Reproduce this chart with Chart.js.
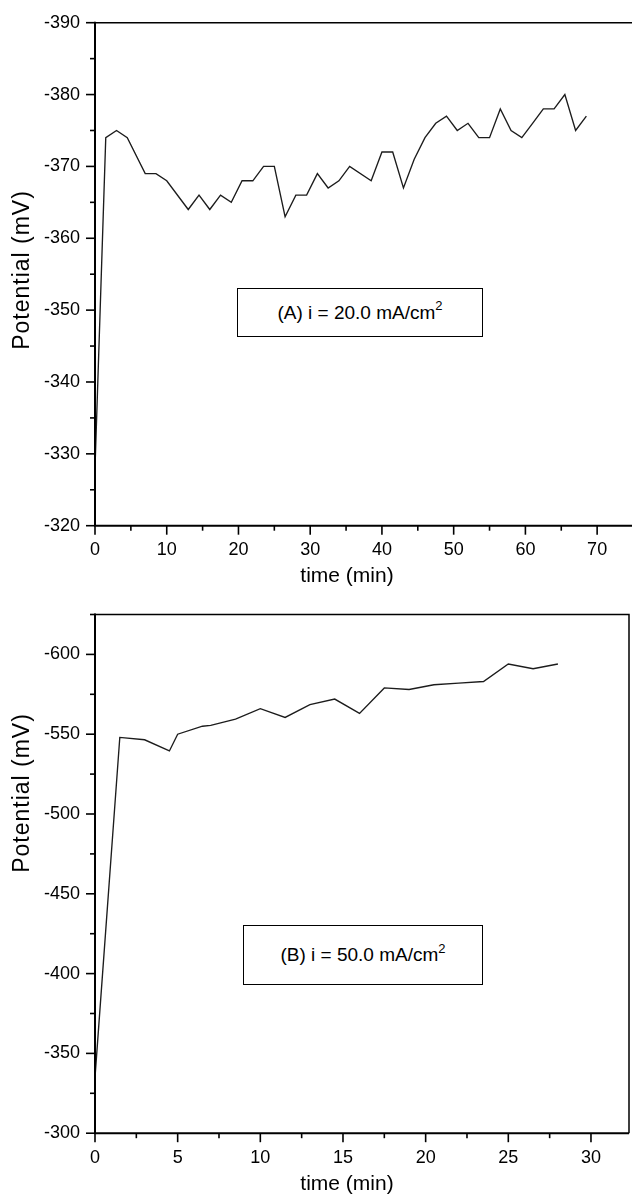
<!DOCTYPE html>
<html><head><meta charset="utf-8">
<script src="https://cdn.jsdelivr.net/npm/chart.js@4.4.1/dist/chart.umd.min.js"></script>
<style>
html,body{margin:0;padding:0;background:#fff;overflow:hidden;}
body{width:632px;height:1196px;position:relative;font-family:"Liberation Sans",Arial,sans-serif;color:#000;}
.cv{position:absolute;left:0;}
.xt{position:absolute;font-size:21px;line-height:21px;white-space:nowrap;transform:translateX(-50%);}
.yt{position:absolute;font-size:23px;letter-spacing:1px;line-height:26px;white-space:nowrap;transform:translate(-50%,-50%) rotate(-90deg);}
.box{position:absolute;border:1px solid #000;box-sizing:border-box;font-size:19px;display:flex;align-items:center;justify-content:center;white-space:nowrap;background:#fff;}
.box sup{font-size:13px;vertical-align:0;position:relative;top:-7px;}
</style></head>
<body>
<canvas id="chartA" class="cv" width="640" height="596" style="top:0"></canvas>
<canvas id="chartB" class="cv" width="640" height="600" style="top:596px"></canvas>
<div class="yt" style="left:21px;top:270px">Potential (mV)</div>
<div class="xt" style="left:347px;top:564px">time (min)</div>
<div class="box" style="left:237px;top:288px;width:246px;height:49px">(A) i = 20.0 mA/cm<sup>2</sup></div>
<div class="yt" style="left:21px;top:793px">Potential (mV)</div>
<div class="xt" style="left:347px;top:1172px">time (min)</div>
<div class="box" style="left:243px;top:925px;width:240px;height:60px">(B) i = 50.0 mA/cm<sup>2</sup></div>
<script>
// ---- Panel A data (i = 20.0 mA/cm2) ----
const timeA = [0, 1.5, 3, 4.5, 7, 8.5, 10, 13, 14.5, 16, 17.5, 19, 20.5, 22, 23.5, 25, 26.5, 28, 29.5, 31, 32.5, 34, 35.5, 38.5, 40, 41.5, 43, 44.5, 46, 47.5, 49, 50.5, 52, 53.5, 55, 56.5, 58, 59.5, 61, 62.5, 64, 65.5, 67, 68.5];
const potA  = [-328, -374, -375, -374, -369, -369, -368, -364, -366, -364, -366, -365, -368, -368, -370, -370, -363, -366, -366, -369, -367, -368, -370, -368, -372, -372, -367, -371, -374, -376, -377, -375, -376, -374, -374, -378, -375, -374, -376, -378, -378, -380, -375, -377];
const xMajorA = [0, 10, 20, 30, 40, 50, 60, 70];
const xMinorA = [5, 15, 25, 35, 45, 55, 65];
const yMajorA = [-390, -380, -370, -360, -350, -340, -330, -320];
const yMinorA = [-385, -375, -365, -355, -345, -335, -325];

// ---- Panel B data (i = 50.0 mA/cm2) ----
const timeB = [0, 1.5, 3, 4.5, 5, 6.5, 7, 8.5, 10, 11.5, 13, 14.5, 16, 17.5, 19, 20.5, 22, 23.5, 25, 26.5, 28];
const potB  = [-335, -548, -546.5, -539.5, -550, -555, -555.5, -559.5, -566, -560.5, -568.5, -572, -563, -579, -578, -581, -582, -583, -594, -591, -594];
const xMajorB = [0, 5, 10, 15, 20, 25, 30];
const xMinorB = [2.5, 7.5, 12.5, 17.5, 22.5, 27.5];
const yMajorB = [-600, -550, -500, -450, -400, -350, -300];
const yMinorB = [-625, -575, -525, -475, -425, -375, -325];

const FONT = "'Liberation Sans', Arial, sans-serif";

const axisFrame = {
  id: 'axisFrame',
  afterDraw(chart, args, o) {
    const {ctx, chartArea: {left, top, right, bottom}, scales: {x, y}} = chart;
    ctx.save();
    ctx.strokeStyle = '#000';
    ctx.lineCap = 'butt';
    ctx.lineWidth = 1.5;
    ctx.beginPath(); ctx.moveTo(left, top); ctx.lineTo(right, top); ctx.lineTo(right, bottom); ctx.stroke();
    ctx.lineWidth = 2;
    ctx.beginPath(); ctx.moveTo(left, top - 1); ctx.lineTo(left, bottom); ctx.lineTo(right, bottom); ctx.stroke();
    ctx.lineWidth = 1.6;
    const seg = (x1, y1, x2, y2) => { ctx.beginPath(); ctx.moveTo(x1, y1); ctx.lineTo(x2, y2); ctx.stroke(); };
    o.xMajor.forEach(v => { const p = x.getPixelForValue(v); seg(p, bottom, p, bottom + 9); });
    o.xMinor.forEach(v => { const p = x.getPixelForValue(v); seg(p, bottom, p, bottom + 5); });
    o.yMajor.forEach(v => { const p = y.getPixelForValue(v); seg(left, p, left - 9, p); });
    o.yMinor.forEach(v => { const p = y.getPixelForValue(v); seg(left, p, left - 5, p); });
    ctx.restore();
  }
};

function makeChart(id, times, pots, cfg) {
  const pts = times.map((t, i) => ({x: t, y: pots[i]}));
  return new Chart(document.getElementById(id), {
    type: 'line',
    data: {datasets: [{data: pts, borderColor: '#1c1c1c', borderWidth: 1.35, pointRadius: 0, tension: 0, fill: false}]},
    plugins: [axisFrame],
    options: {
      responsive: false, animation: false, events: [],
      layout: {padding: {left: 0, top: cfg.padTop, right: cfg.padRight, bottom: 0}},
      plugins: {legend: {display: false}, tooltip: {enabled: false},
        axisFrame: {xMajor: cfg.xMajor, xMinor: cfg.xMinor, yMajor: cfg.yMajor, yMinor: cfg.yMinor}},
      scales: {
        x: {
          type: 'linear', min: 0, max: cfg.xMax,
          grid: {display: true, drawOnChartArea: false, drawTicks: true, tickLength: 9, color: 'rgba(0,0,0,0)'},
          border: {display: false},
          afterBuildTicks: s => { s.ticks = cfg.xMajor.map(v => ({value: v})); },
          ticks: {color: '#000', font: {family: FONT, size: 18}, padding: 5, maxRotation: 0, autoSkip: false, callback: v => String(v)},
          afterFit: s => { s.height = cfg.xHeight; }
        },
        y: {
          type: 'linear', min: cfg.yMin, max: cfg.yMax, reverse: true,
          grid: {display: true, drawOnChartArea: false, drawTicks: true, tickLength: 9, color: 'rgba(0,0,0,0)'},
          border: {display: false},
          afterBuildTicks: s => { s.ticks = cfg.yMajor.map(v => ({value: v})); },
          ticks: {color: '#000', font: {family: FONT, size: 18}, padding: 6, autoSkip: false, callback: v => String(v)},
          afterFit: s => { s.width = 95; }
        }
      }
    }
  });
}

makeChart('chartA', timeA, potA, {
  padTop: 22.7, padRight: 7, xHeight: 596 - 525.7, xMax: 75, yMin: -390, yMax: -320,
  xMajor: xMajorA, xMinor: xMinorA, yMajor: yMajorA, yMinor: yMinorA
});
makeChart('chartB', timeB, potB, {
  padTop: 18.5, padRight: 11, xHeight: 600 - 537.2, xMax: 32.3, yMin: -625, yMax: -300,
  xMajor: xMajorB, xMinor: xMinorB, yMajor: yMajorB, yMinor: yMinorB
});
</script>
</body></html>
